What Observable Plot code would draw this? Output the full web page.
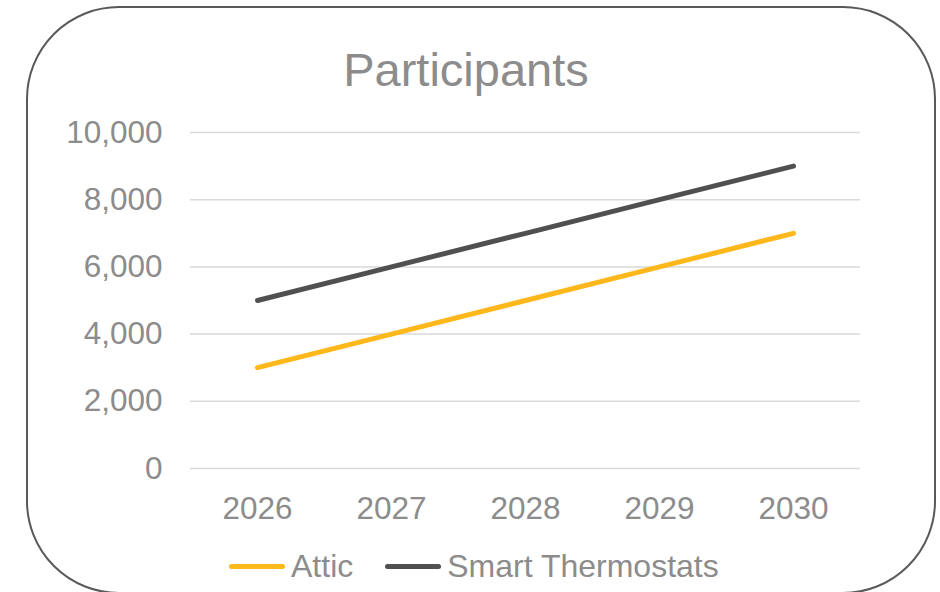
<!DOCTYPE html>
<html>
<head>
<meta charset="utf-8">
<script src="https://cdn.jsdelivr.net/npm/d3@7"></script>
<script src="https://cdn.jsdelivr.net/npm/@observablehq/plot@0.6"></script>
<style>
  html, body { margin: 0; padding: 0; background: #fff; }
  #wrap { position: relative; width: 940px; height: 592px; overflow: hidden; font-family: "Liberation Sans", Arial, sans-serif; }
  #border { position: absolute; left: 26px; top: 6px; width: 910px; height: 588px; box-sizing: border-box; border: 2px solid #595959; border-radius: 93px; }
  #title { position: absolute; left: 0; width: 932px; top: 42px; text-align: center; font-size: 47px; line-height: 56px; color: #8c8c8c; }
  #chart { position: absolute; left: 0; top: 0; }
  #legend { position: absolute; left: 229px; top: 546px; display: flex; align-items: center; font-size: 32px; line-height: 40px; color: #8c8c8c; }
  .item { display: flex; align-items: center; margin-right: 32px; }
  .sw { width: 56px; height: 5px; border-radius: 3px; margin-right: 6px; }
</style>
</head>
<body>
<div id="wrap">
  <div id="border"></div>
  <div id="title">Participants</div>
  <div id="chart"></div>
  <div id="legend"></div>
</div>
<script>
const years = ["2026", "2027", "2028", "2029", "2030"];
const series = ["Attic", "Smart Thermostats"];
const attic = [3000, 4000, 5000, 6000, 7000];
const thermostats = [5000, 6000, 7000, 8000, 9000];
const yTicks = [0, 2000, 4000, 6000, 8000, 10000];
const colors = ["#FFB81C", "#505050"];

const values = [attic, thermostats];
const rows = [];
series.forEach((s, i) => years.forEach((y, j) => rows.push({series: s, year: y, value: values[i][j]})));

const chart = Plot.plot({
  width: 940,
  height: 530,
  marginLeft: 190,
  marginRight: 80,
  marginTop: 132,
  marginBottom: 62,
  style: {fontFamily: "'Liberation Sans', Arial, sans-serif", fontSize: "31.5px", color: "#8c8c8c", background: "transparent", overflow: "visible"},
  x: {type: "point", domain: years, padding: 0.5, label: null},
  y: {domain: [0, 10000], label: null},
  color: {domain: series, range: colors},
  marks: [
    Plot.ruleY(yTicks, {stroke: "#d9d9d9", strokeWidth: 1.5}),
    Plot.axisY(yTicks, {tickSize: 0, tickPadding: 28, tickFormat: d3.format(","), label: null, fontSize: 31.5}),
    Plot.axisX(years, {tickSize: 0, tickPadding: 28, label: null, fontSize: 31.5}),
    Plot.lineY(rows, {x: "year", y: "value", z: "series", stroke: "series", strokeWidth: 5, strokeLinecap: "round", strokeLinejoin: "round"})
  ]
});
document.getElementById("chart").appendChild(chart);

const legend = document.getElementById("legend");
series.forEach((s, i) => {
  const item = document.createElement("div");
  item.className = "item";
  const sw = document.createElement("span");
  sw.className = "sw";
  sw.style.background = colors[i];
  const t = document.createElement("span");
  t.textContent = s;
  item.appendChild(sw);
  item.appendChild(t);
  legend.appendChild(item);
});
</script>
</body>
</html>
